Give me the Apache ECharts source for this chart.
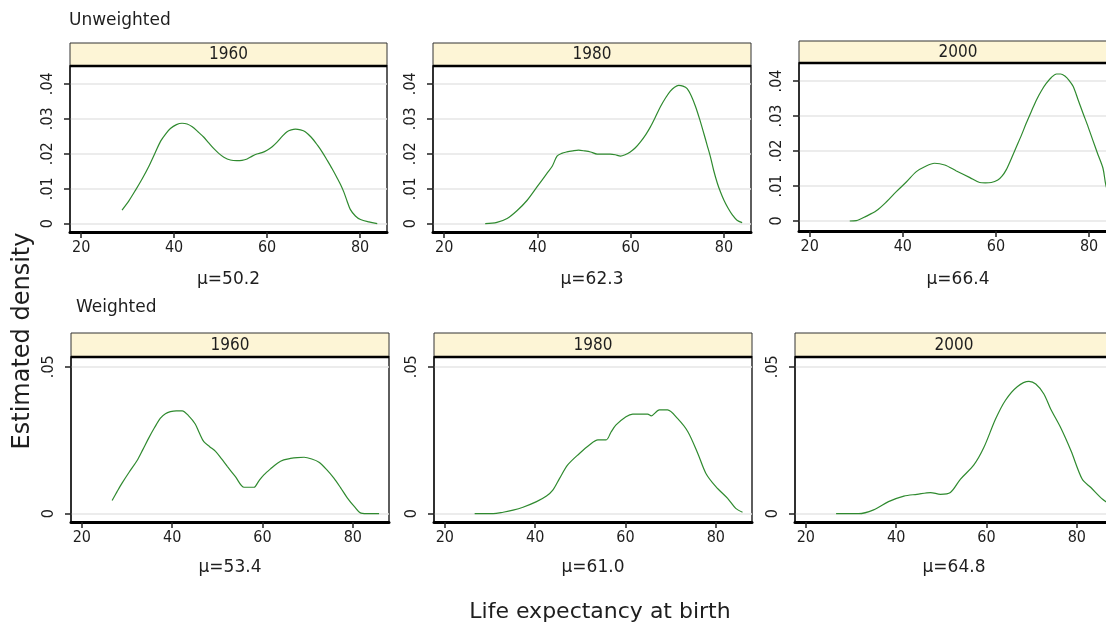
<!DOCTYPE html>
<html><head><meta charset="utf-8">
<script src="https://cdn.jsdelivr.net/npm/echarts@6/dist/echarts.min.js"></script>
<style>html,body{margin:0;padding:0;background:#fff}#c{width:1106px;height:623px}</style>
</head><body><div id="c"></div>
<script>
// ---------- data ----------
const years = ['1960', '1980', '2000'];
const rowTitles = ['Unweighted', 'Weighted'];
const meansUnweighted = ['50.2', '62.3', '66.4'];
const meansWeighted = ['53.4', '61.0', '64.8'];
const xTicks = [20, 40, 60, 80];
const yTicksUnweighted = [0, 0.01, 0.02, 0.03, 0.04];
const yTicksWeighted = [0, 0.05];
const xTitle = 'Life expectancy at birth';
const yTitle = 'Estimated density';

// [life expectancy, estimated density]
const unw1960 = [[28.8,0.0039],[30.3,0.0066],[31.7,0.0096],[33.2,0.013],[34.6,0.0165],[35.9,0.0202],[37.1,0.0236],[38.2,0.0257],[39.2,0.0272],[40.5,0.0283],[41.7,0.0287],[42.8,0.0285],[43.9,0.0277],[45.2,0.0262],[46.4,0.0247],[47.5,0.023],[48.5,0.0215],[49.6,0.0201],[50.7,0.019],[52.1,0.0182],[53.5,0.018],[54.6,0.0181],[55.7,0.0185],[56.8,0.0193],[57.8,0.0199],[58.9,0.0203],[60.0,0.021],[61.1,0.022],[62.2,0.0234],[63.3,0.025],[64.3,0.0263],[65.2,0.0268],[66.1,0.027],[67.2,0.0268],[68.2,0.0263],[69.5,0.0247],[70.8,0.0225],[71.9,0.0204],[72.9,0.0182],[74.0,0.0157],[75.1,0.013],[75.8,0.0112],[76.5,0.0091],[77.2,0.0065],[77.9,0.0041],[79.0,0.0022],[80.1,0.0012],[81.9,0.0005],[83.7,0.0]];
const unw1980 = [[28.8,0],[31.3,0.0004],[33.5,0.0015],[35.6,0.0037],[37.8,0.0067],[39.9,0.0105],[42.0,0.0143],[43.2,0.0165],[44.2,0.0193],[45.2,0.0201],[46.3,0.0205],[47.6,0.0208],[48.8,0.021],[50.1,0.0208],[51.4,0.0205],[52.8,0.0199],[54.2,0.0199],[55.6,0.0199],[56.7,0.0197],[57.8,0.0193],[58.8,0.0197],[59.9,0.0205],[61.0,0.0217],[62.1,0.0234],[63.2,0.0254],[64.2,0.0276],[65.3,0.0305],[66.4,0.0335],[67.5,0.036],[68.5,0.0379],[69.4,0.039],[70.3,0.0395],[71.2,0.0393],[72.1,0.0386],[73.0,0.0365],[73.9,0.0335],[74.8,0.0298],[75.7,0.0257],[76.4,0.0224],[77.1,0.0191],[77.8,0.0152],[78.6,0.0115],[79.3,0.0089],[80.0,0.0067],[80.9,0.0044],[81.8,0.0025],[82.8,0.001],[83.9,0.0003]];
const unw2000 = [[28.6,0],[30.0,0.0001],[32.2,0.0014],[34.3,0.0029],[36.5,0.0055],[38.6,0.0084],[40.8,0.0112],[42.9,0.0141],[44.7,0.0155],[46.8,0.0165],[49.0,0.016],[51.5,0.0143],[54.4,0.0124],[56.5,0.011],[57.7,0.0109],[59.0,0.011],[60.4,0.0117],[61.3,0.0128],[62.2,0.0146],[63.3,0.0178],[64.4,0.0212],[65.5,0.0246],[66.5,0.0279],[67.6,0.0313],[68.7,0.0346],[69.8,0.0373],[70.8,0.0393],[71.9,0.041],[73.0,0.042],[73.9,0.042],[74.8,0.0414],[75.7,0.0402],[76.6,0.0384],[77.6,0.0348],[78.7,0.0308],[79.8,0.0269],[80.8,0.0231],[81.9,0.019],[83.0,0.015],[83.6,0.0103],[84.5,0.0068],[86.0,0.003]];
const w1960 = [[26.7,0.0045],[27.8,0.0075],[28.9,0.0104],[30.5,0.0142],[32.2,0.018],[33.5,0.0218],[34.8,0.0257],[36.1,0.0293],[37.4,0.0325],[38.5,0.034],[39.6,0.0347],[40.9,0.035],[42.2,0.035],[43.7,0.0332],[45.1,0.0305],[46.0,0.0275],[47.0,0.0245],[48.3,0.0228],[49.6,0.0212],[50.9,0.0187],[52.2,0.0161],[54.0,0.0126],[55.9,0.009],[57.0,0.009],[58.1,0.009],[59.2,0.0112],[60.3,0.0132],[61.8,0.0153],[63.3,0.0172],[64.7,0.0183],[66.2,0.0188],[67.7,0.0191],[69.2,0.0192],[70.9,0.0186],[72.5,0.0175],[74.2,0.015],[75.8,0.0121],[77.3,0.0088],[78.8,0.0053],[80.3,0.0025],[81.8,0.0002],[83.8,0.0],[85.8,0.0]];
const w1980 = [[26.6,0],[30.7,0],[32.9,0.0005],[35.1,0.0012],[37.3,0.0022],[40.3,0.0041],[42.5,0.006],[43.9,0.008],[45.4,0.012],[47.2,0.0166],[49.8,0.0205],[52.0,0.0234],[53.9,0.0251],[55.7,0.0251],[56.8,0.0278],[57.9,0.0302],[60.1,0.033],[61.6,0.0339],[64.9,0.0339],[65.7,0.0333],[67.5,0.0353],[69.3,0.0353],[71.5,0.0324],[73.8,0.0279],[76.0,0.0205],[77.8,0.0137],[80.0,0.0092],[82.6,0.0052],[84.4,0.0018],[85.9,0.0005]];
const w2000 = [[26.7,0],[31.7,0],[35.0,0.0013],[38.3,0.0041],[41.7,0.006],[44.6,0.0066],[47.6,0.0072],[49.8,0.0066],[52.0,0.0072],[54.2,0.0117],[57.2,0.0166],[59.4,0.0225],[62.0,0.0322],[64.2,0.0386],[66.8,0.0432],[69.4,0.045],[70.9,0.0441],[72.7,0.0407],[74.2,0.0356],[76.4,0.0293],[78.7,0.0214],[81.2,0.0117],[83.1,0.0089],[85.7,0.0049],[87.5,0.003]];

// ---------- layout / style ----------
const FONT = "'DejaVu Sans', Verdana, sans-serif";
const NARROW = "'DejaVu Sans Condensed', 'Liberation Sans Narrow', 'DejaVu Sans', sans-serif";
const TXT = '#1e1e1e';
const CURVE = '#2f8a2f';
const STRIP = '#fdf5d6';

const panels = [
  {data: unw1960, year: years[0], mu: meansUnweighted[0], yt: yTicksUnweighted, left: 70,  top: 66, width: 317, height: 166, sTop: 43, xr: [17.6, 85.8], yr: [-0.00237, 0.04506], gap: 39},
  {data: unw1980, year: years[1], mu: meansUnweighted[1], yt: yTicksUnweighted, left: 433, top: 66, width: 318, height: 166, sTop: 43, xr: [17.6, 85.8], yr: [-0.00237, 0.04506], gap: 39},
  {data: unw2000, year: years[2], mu: meansUnweighted[2], yt: yTicksUnweighted, left: 799, top: 63, width: 318, height: 168, sTop: 41, xr: [17.7, 86.0], yr: [-0.00286, 0.04514], gap: 40},
  {data: w1960, year: years[0], mu: meansWeighted[0], yt: yTicksWeighted, left: 71,  top: 357, width: 318, height: 165, sTop: 333, xr: [17.6, 88.0], yr: [-0.00282, 0.0533], gap: 37},
  {data: w1980, year: years[1], mu: meansWeighted[1], yt: yTicksWeighted, left: 434, top: 357, width: 318, height: 165, sTop: 333, xr: [17.6, 88.0], yr: [-0.00282, 0.0533], gap: 37},
  {data: w2000, year: years[2], mu: meansWeighted[2], yt: yTicksWeighted, left: 795, top: 357, width: 318, height: 165, sTop: 333, xr: [17.6, 88.0], yr: [-0.00282, 0.0533], gap: 37}
];

const yFmt = v => (v === 0 ? '0' : String(v).replace(/^0/, ''));

const grid = [], xAxis = [], yAxis = [], series = [], graphic = [];
panels.forEach((p, i) => {
  grid.push({left: p.left, top: p.top, width: p.width, height: p.height, show: true,
    backgroundColor: '#fff', borderColor: '#2a2a2a', borderWidth: 1.5,
    containLabel: false, outerBoundsMode: 'none'});
  xAxis.push({gridIndex: i, type: 'value', min: p.xr[0], max: p.xr[1],
    name: '\u03bc=' + p.mu, nameLocation: 'middle', nameGap: p.gap,
    nameTextStyle: {fontFamily: FONT, fontSize: 17, color: TXT},
    axisLine: {show: true, onZero: false, lineStyle: {color: '#000', width: 3}},
    axisTick: {show: true, length: 6, customValues: xTicks, lineStyle: {color: '#222', width: 1.5}},
    axisLabel: {customValues: xTicks, fontFamily: NARROW, fontSize: 16, color: TXT, margin: 8},
    splitLine: {show: false}});
  yAxis.push({gridIndex: i, type: 'value', min: p.yr[0], max: p.yr[1],
    axisLine: {show: true, onZero: false, lineStyle: {color: '#222', width: 1.5}},
    axisTick: {show: true, length: 6, customValues: p.yt, lineStyle: {color: '#222', width: 1.5}},
    axisLabel: {customValues: p.yt, rotate: 90, formatter: yFmt, fontFamily: NARROW, fontSize: 16, color: TXT, margin: 14},
    splitLine: {show: true, lineStyle: {color: '#e6e6e6', width: 1.5}}});
  series.push({type: 'line', xAxisIndex: i, yAxisIndex: i, data: p.data, showSymbol: false,
    smooth: 0.3, lineStyle: {color: CURVE, width: 1.2}, silent: true, animation: false});
  const sh = p.top - p.sTop;
  graphic.push({type: 'rect', shape: {x: p.left, y: p.sTop, width: p.width, height: sh},
    style: {fill: STRIP, stroke: '#333', lineWidth: 1}, z: 100});
  graphic.push({type: 'line', shape: {x1: p.left, y1: p.top, x2: p.left + p.width, y2: p.top},
    style: {stroke: '#000', lineWidth: 2.5}, z: 101});
  graphic.push({type: 'text', x: p.left + p.width / 2, y: p.sTop + sh / 2 + 0.5,
    style: {text: p.year, fontFamily: NARROW, fontSize: 17, fill: TXT, align: 'center', verticalAlign: 'middle'}, z: 102});
});

graphic.push({type: 'text', x: 69, y: 21, style: {text: rowTitles[0], fontFamily: FONT, fontSize: 17, fill: TXT, align: 'left', verticalAlign: 'middle'}});
graphic.push({type: 'text', x: 76, y: 308, style: {text: rowTitles[1], fontFamily: FONT, fontSize: 17, fill: TXT, align: 'left', verticalAlign: 'middle'}});
graphic.push({type: 'text', x: 23, y: 341, rotation: Math.PI / 2, style: {text: yTitle, fontFamily: FONT, fontSize: 24, fill: TXT, align: 'center', verticalAlign: 'middle'}});
graphic.push({type: 'text', x: 600, y: 612, style: {text: xTitle, fontFamily: FONT, fontSize: 22, fill: TXT, align: 'center', verticalAlign: 'middle'}});

const chart = echarts.init(document.getElementById('c'), null, {renderer: 'canvas'});
chart.setOption({animation: false, backgroundColor: '#fff', grid, xAxis, yAxis, series, graphic});
</script></body></html>
